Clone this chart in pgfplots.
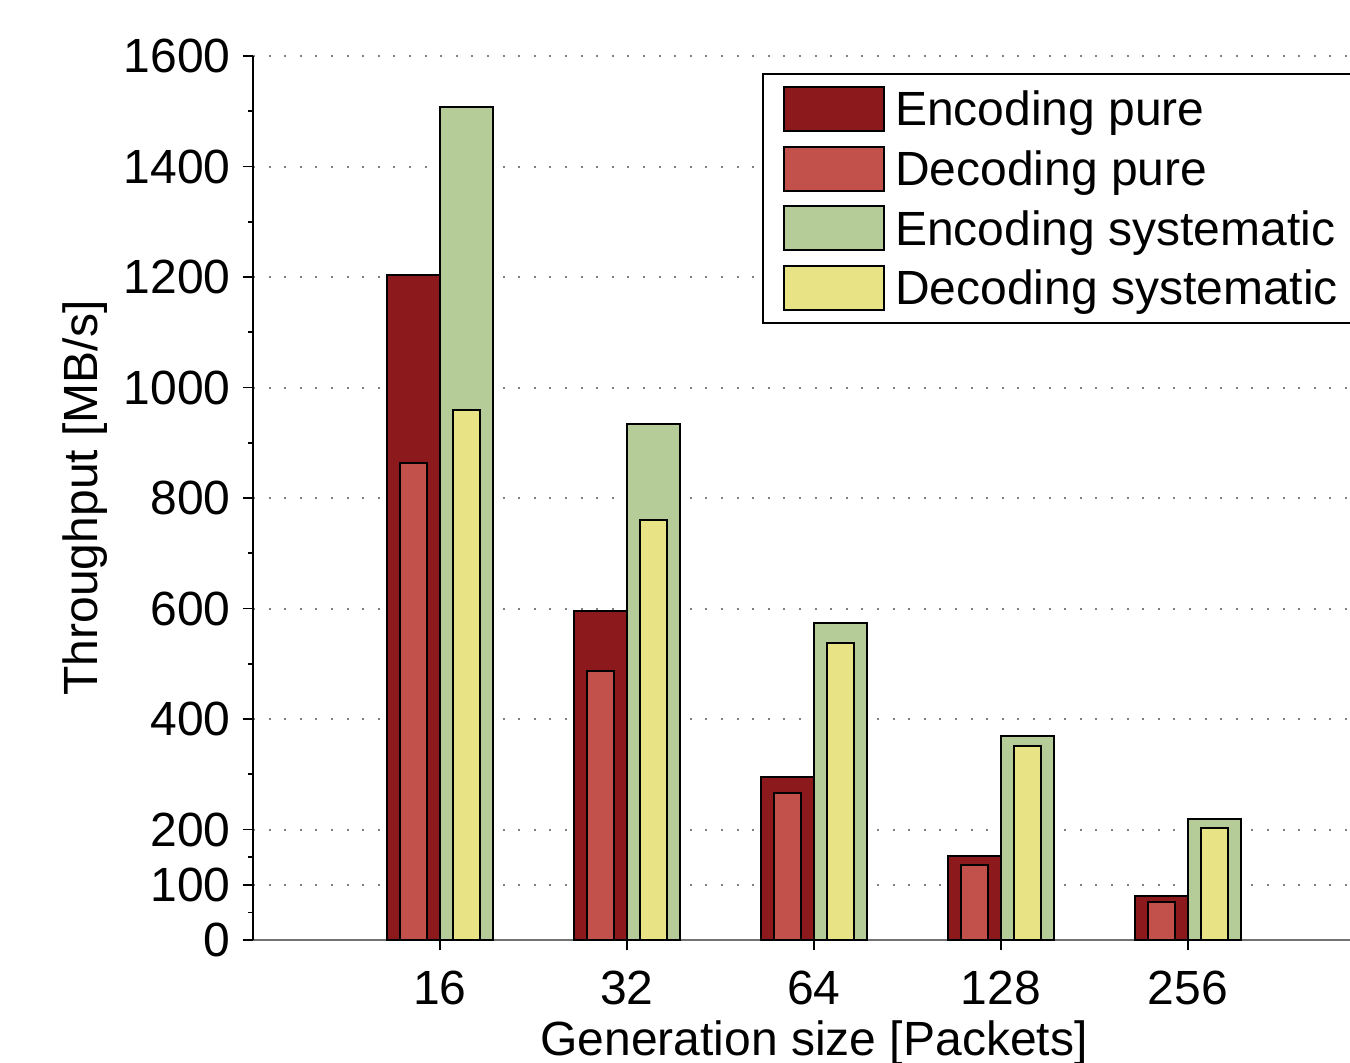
\documentclass[border=0pt]{standalone}
\usepackage{fontspec}
\setmainfont{Liberation Sans}
\usepackage{pgfplots}
\pgfplotsset{compat=1.18}
\definecolor{encpure}{HTML}{8C1A1C}
\definecolor{decpure}{HTML}{C1514A}
\definecolor{encsys}{HTML}{B5CC98}
\definecolor{decsys}{HTML}{E8E485}
\begin{document}
\begin{tikzpicture}[font=\fontsize{12}{14.5}\selectfont]
\begin{axis}[
  scale only axis,
  width=280.5pt, height=221pt,
  xmin=-1, xmax=5, ymin=0, ymax=1600,
  axis x line*=bottom, axis y line*=left,
  x axis line style={draw=black!55, line width=0.7pt},
  y axis line style={draw=black, line width=0.5pt},
  tick align=outside,
  major tick length=2.6pt, minor tick length=1.3pt,
  tick style={black, line width=0.4pt},
  xtick={0,1,2,3,4}, xticklabels={16,32,64,128,256},
  ytick={0,100,200,400,600,800,1000,1200,1400,1600},
  minor ytick={50,150,300,500,700,900,1100,1300,1500},
  xtick pos=bottom, ytick pos=left,
  /pgf/number format/assume math mode=true,
  /pgf/number format/1000 sep={},
  xticklabel style={yshift=-1.5pt},
  yticklabel style={xshift=0.5pt},
  ymajorgrids,
  grid style={draw=black!50, line width=0.5pt, dash pattern=on 0.5pt off 3.4pt},
  xlabel={Generation size [Packets]},
  ylabel={Throughput [MB/s]},
  xlabel style={at={(axis description cs:0.5,-0.1301)}, anchor=base},
  ylabel style={at={(axis description cs:-0.13904,0.5)}, anchor=base},
  legend style={at={(rel axis cs:0.4537,0.9808)}, anchor=north west,
    draw=black, line width=0.5pt, inner xsep=5pt, inner ysep=3pt,
    row sep=3.4pt,
    nodes={inner sep=0pt, text height=9.75pt, text depth=1.25pt},
    /tikz/every even column/.append style={column sep=0pt},
    /tikz/every odd column/.append style={column sep=2.5pt}},
  legend cell align=left,
  legend image code/.code={\draw[#1, line width=0.5pt] (0pt,-5.5pt) rectangle (25pt,5.5pt);},
]
\addplot[ybar, bar width=13.25pt, bar shift=-6.625pt, fill=encpure, draw=black, line width=0.5pt]
  coordinates {(0,1203) (1,595) (2,295) (3,152) (4,80)};
\addlegendentry{Encoding pure}
\addplot[ybar, bar width=6.75pt, bar shift=-6.625pt, fill=decpure, draw=black, line width=0.5pt]
  coordinates {(0,863) (1,487) (2,266) (3,136) (4,68)};
\addlegendentry{Decoding pure}
\addplot[ybar, bar width=13.25pt, bar shift=6.625pt, fill=encsys, draw=black, line width=0.5pt]
  coordinates {(0,1508) (1,934) (2,574) (3,369) (4,219)};
\addlegendentry{Encoding systematic}
\addplot[ybar, bar width=6.75pt, bar shift=6.625pt, fill=decsys, draw=black, line width=0.5pt]
  coordinates {(0,959) (1,760) (2,538) (3,351) (4,202)};
\addlegendentry{Decoding systematic}
\coordinate (BL) at (rel axis cs:-0.22549,-0.13801);
\coordinate (TR) at (rel axis cs:0.97772,1.06335);
\end{axis}
\pgfresetboundingbox
\useasboundingbox (BL) rectangle (TR);
\end{tikzpicture}
\end{document}
